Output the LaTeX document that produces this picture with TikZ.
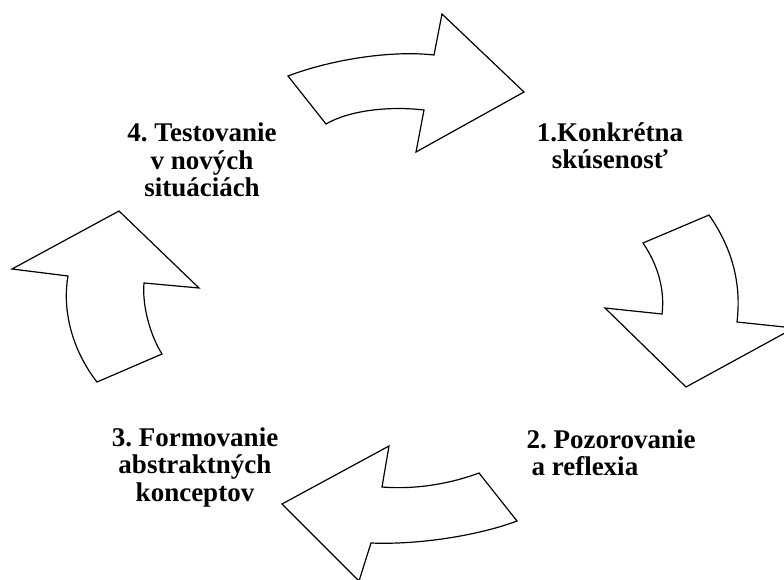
\documentclass[tikz,border=0pt]{standalone}
\usepackage{fontspec}
\setmainfont{Liberation Serif}
\usetikzlibrary{positioning}

\tikzset{
  blockarrow/.style={draw, line width=1.2pt, line join=miter, fill=white},
  cyclabel/.style={align=center, inner sep=0pt, font=\frenchspacing\bfseries\fontsize{27}{27.5}\selectfont}
}

\begin{document}
\begin{tikzpicture}[x=1pt, y=-1pt]
  \useasboundingbox (0,0) rectangle (784,579);
  \clip (0,0) rectangle (784,579);

  % sipky
  \draw[blockarrow] (288,76) .. controls (330,60) and (390,50) .. (434,55) -- (442,14) -- (524,92) -- (416,152) -- (424,110) .. controls (390,106) and (350,110) .. (326,124) -- cycle;
  \draw[blockarrow] (643,243) -- (709,215) .. controls (730,245) and (742,280) .. (737,322) -- (794,328) -- (686,387) -- (605,308) -- (662,314) .. controls (665,290) and (658,265) .. (643,243) -- cycle;
  \draw[blockarrow] (479,473) -- (517,521) .. controls (480,535) and (420,545) .. (371,543) -- (359,581) -- (282,504) -- (389,446) -- (382,487) .. controls (420,490) and (455,482) .. (479,473) -- cycle;
  \draw[blockarrow] (119,211) -- (12,269) -- (68,276) .. controls (62,310) and (72,350) .. (97,382) -- (162,354) .. controls (150,335) and (142,305) .. (144,283) -- (199,288) -- cycle;

  % popisky
  \node[cyclabel] (konkretna) at (610,146) {1.Konkrétna\\skúsenosť};
  \node[cyclabel, align=left] (pozorovanie) at (611,453) {2. Pozorovanie\\\hspace*{5pt}a reflexia};
  \node[cyclabel] (formovanie) at (195,467) {3. Formovanie\\abstraktných\\konceptov};
  \node[cyclabel] (testovanie) at (202,160) {4. Testovanie\\v nových\\situáciách};
\end{tikzpicture}
\end{document}
